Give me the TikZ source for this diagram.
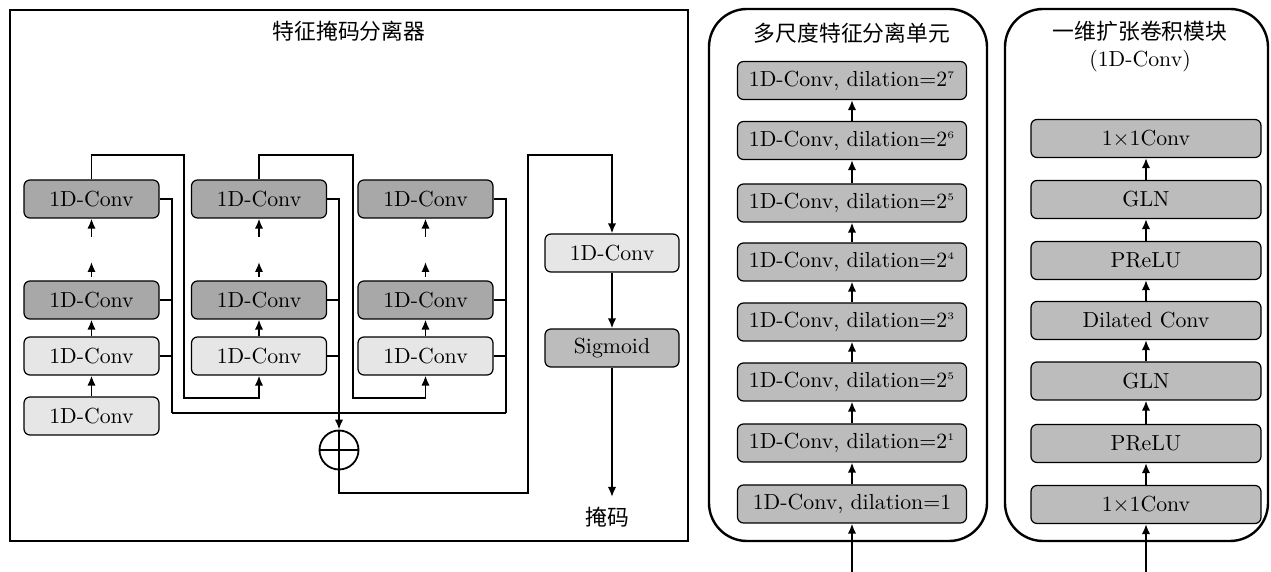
\documentclass[tikz,border=0pt]{standalone}
\usepackage{fontspec}
\newfontfamily\cjk{Noto Sans CJK SC}
\usetikzlibrary{arrows.meta}

\definecolor{convdark}{RGB}{168,168,168}
\definecolor{convmid}{RGB}{188,188,188}
\definecolor{convlight}{RGB}{230,230,230}

\tikzset{
  blk/.style={draw, line width=0.6pt, rounded corners=3pt, minimum height=19pt, inner sep=0pt},
  leftbox/.style={blk, minimum width=67.5pt},
  widebox/.style={blk, minimum width=114.5pt, fill=convmid},
  link/.style={line width=0.9pt},
  arr/.style={link, -{Latex[length=5pt,width=4.2pt]}},
  frame/.style={line width=1.2pt}
}

\begin{document}
\begin{tikzpicture}[x=0.5pt, y=-0.5pt, font=\fontsize{10.9}{13.5}\selectfont]
\useasboundingbox (0,0) rectangle (1271,572);

% ---------------- mask separator ----------------
\draw[frame] (10,10) rectangle (688,541);
\node (sepTitle) at (349,31) {\cjk 特征掩码分离器};

% column 1
\node[leftbox, fill=convdark]  (a1) at (91.5,199) {1D-Conv};
\node[leftbox, fill=convdark]  (a2) at (91.5,300) {1D-Conv};
\node[leftbox, fill=convlight] (a3) at (91.5,356) {1D-Conv};
\node[leftbox, fill=convlight] (a4) at (91.5,416) {1D-Conv};
% column 2
\node[leftbox, fill=convdark]  (b1) at (259,199) {1D-Conv};
\node[leftbox, fill=convdark]  (b2) at (259,300) {1D-Conv};
\node[leftbox, fill=convlight] (b3) at (259,356) {1D-Conv};
% column 3
\node[leftbox, fill=convdark]  (c1) at (425.5,199) {1D-Conv};
\node[leftbox, fill=convdark]  (c2) at (425.5,300) {1D-Conv};
\node[leftbox, fill=convlight] (c3) at (425.5,356) {1D-Conv};
% output branch
\node[leftbox, fill=convlight, minimum width=67pt] (m1) at (612,253) {1D-Conv};
\node[leftbox, fill=convmid, minimum width=67pt]   (sig) at (612,348) {Sigmoid};
\node[circle, draw, line width=0.9pt, minimum size=19.5pt, inner sep=0pt] (sum) at (339,450) {};
\draw[link] (sum.north) -- (sum.south) (sum.west) -- (sum.east);

% vertical flow inside each column (with elided layers)
\foreach \c in {a,b,c}{
  \draw[arr] (\c3) -- (\c2);
}
\draw[arr] (a4) -- (a3);
\foreach \c/\x in {a/91.5,b/259,c/425.5}{
  \coordinate (\c gapLow) at (\x,277);
  \coordinate (\c gapTip) at (\x,262);
  \coordinate (\c gapUp)  at (\x,237);
  \draw[arr] (\c gapLow) -- (\c gapTip);
  \draw[arr] (\c gapUp) -- (\c1);
}

% block-to-block links
\coordinate (topA) at (184,155);
\coordinate (botA) at (184,398);
\draw[arr] (a1.north) |- (topA) -- (botA) -| (b3.south);
\coordinate (topB) at (353,155);
\coordinate (botB) at (353,398);
\draw[arr] (b1.north) |- (topB) -- (botB) -| (c3.south);

% skip connections collected into the sum
\coordinate (ra) at (172,413);
\coordinate (rb) at (339,413);
\coordinate (rc) at (506,413);
\draw[link] (a1.east) -| (ra);
\draw[link] (c1.east) -| (rc);
\draw[link] (ra) -- (rc);
\draw[arr] (b1.east) -| (sum.north);
\foreach \n/\r in {a2/ra,a3/ra,b2/rb,b3/rb,c2/rc,c3/rc}{
  \draw[link] (\n.east) -- (\n.east -| \r);
}

% sum to mask head
\coordinate (ob) at (528,493);
\coordinate (oc) at (528,155);
\draw[arr] (sum.south) |- (ob) -- (oc) -| (m1.north);
\draw[arr] (m1) -- (sig);
\coordinate (maskEnd) at (612,497);
\draw[arr] (sig) -- (maskEnd);
\node (maskLbl) at (607,517) {\cjk 掩码};

% ---------------- multi-scale unit ----------------
\draw[frame, rounded corners=19pt] (709,9) rectangle (987,541);
\node (msTitle) at (852,33) {\cjk 多尺度特征分离单元};
\node[widebox] (d0) at (852,504) {1D-Conv, dilation=1};
\node[widebox] (d1) at (852,443) {1D-Conv, dilation=2$^{\scriptscriptstyle 1}$};
\node[widebox] (d2) at (852,382) {1D-Conv, dilation=2$^{\scriptscriptstyle 5}$};
\node[widebox] (d3) at (852,322) {1D-Conv, dilation=2$^{\scriptscriptstyle 3}$};
\node[widebox] (d4) at (852,262) {1D-Conv, dilation=2$^{\scriptscriptstyle 4}$};
\node[widebox] (d5) at (852,203) {1D-Conv, dilation=2$^{\scriptscriptstyle 5}$};
\node[widebox] (d6) at (852,140.5) {1D-Conv, dilation=2$^{\scriptscriptstyle 6}$};
\node[widebox] (d7) at (852,80.5) {1D-Conv, dilation=2$^{\scriptscriptstyle 7}$};
\coordinate (dIn) at (852,572);
\draw[arr] (dIn) -- (d0);
\foreach \i [evaluate=\i as \j using int(\i+1)] in {0,...,6}{
  \draw[arr] (d\i) -- (d\j);
}

% ---------------- dilated conv block ----------------
\draw[frame, rounded corners=19pt] (1005,9) rectangle (1268,541);
\node[align=center] (cbTitle) at (1140,46.5) {\cjk 一维扩张卷积模块\\(1D-Conv)};
\node[widebox, minimum width=115pt] (e0) at (1146,504.5) {1$\times$1Conv};
\node[widebox, minimum width=115pt] (e1) at (1146,443.5) {PReLU};
\node[widebox, minimum width=115pt] (e2) at (1146,381)   {GLN};
\node[widebox, minimum width=115pt] (e3) at (1146,320.5) {Dilated Conv};
\node[widebox, minimum width=115pt] (e4) at (1146,260.5) {PReLU};
\node[widebox, minimum width=115pt] (e5) at (1146,199.5) {GLN};
\node[widebox, minimum width=115pt] (e6) at (1146,138.5) {1$\times$1Conv};
\coordinate (eIn) at (1146,572);
\draw[arr] (eIn) -- (e0);
\foreach \i [evaluate=\i as \j using int(\i+1)] in {0,...,5}{
  \draw[arr] (e\i) -- (e\j);
}
\end{tikzpicture}
\end{document}
